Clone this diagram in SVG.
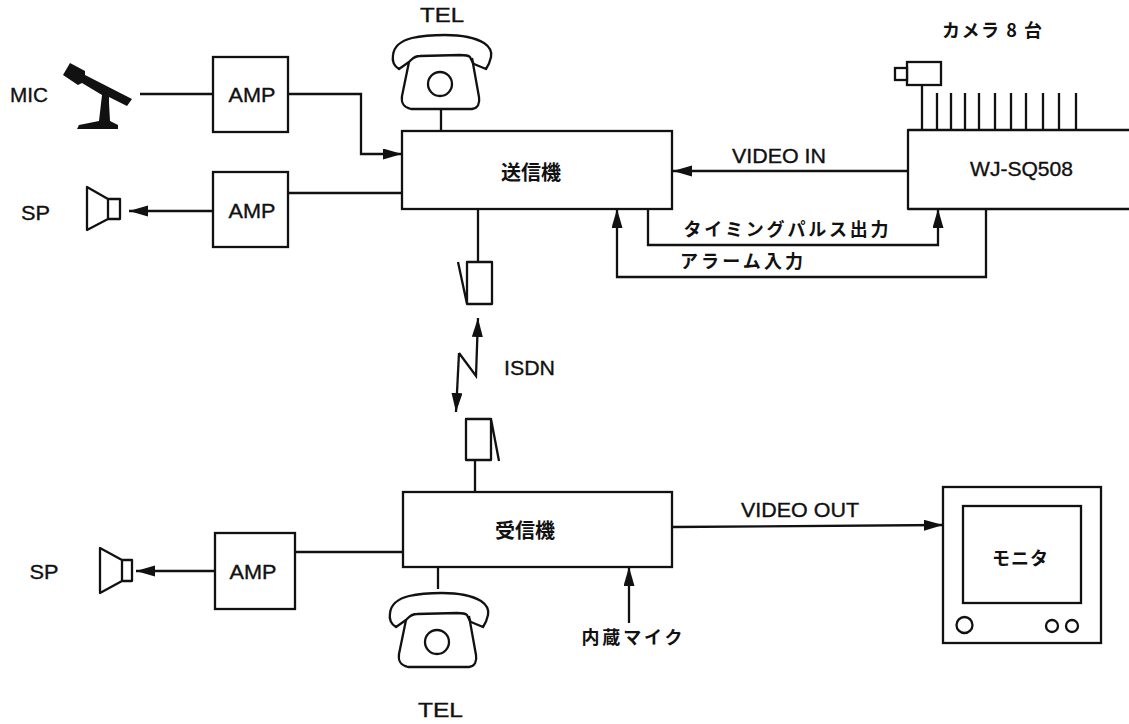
<svg xmlns="http://www.w3.org/2000/svg" xmlns:xlink="http://www.w3.org/1999/xlink" width="1129" height="724" viewBox="0 0 1129 724">
<style>
.s{fill:none;stroke:#111;stroke-width:2.300;stroke-linejoin:round}
.b{fill:#fff;stroke:#111;stroke-width:2.300}
.t{font-family:"Liberation Sans",Arial,sans-serif;font-size:20px;fill:#111;stroke:#111;stroke-width:.35;text-anchor:middle}
.j{font-family:"Noto Sans CJK JP",sans-serif;font-size:18px;font-weight:700;fill:#111;text-anchor:middle}
.c path,.c line{fill:none;stroke:#111;stroke-width:2.300}
</style>
<defs>
<marker id="a" markerUnits="userSpaceOnUse" markerWidth="20" markerHeight="12" refX="19" refY="5.500" orient="auto"><path d="M0 0L19 5.500L0 11Z" fill="#111"/></marker>
<g id="phone">
<path class="s" d="M399 69C394 66 392 61 393 55C394 47 400 41 412 38C425 35 437 35 445 35C460 35 474 37 484 43C490 47 492 52 491 57C490 62 488 66 486 69L474 64C472 62 471 59 470 57C468 55 464 55 460 55L420 56C416 56 414 57 411 60L409 62Z"/>
<path class="s" d="M409 62L402 96C401 103 403 107 411 109H472C478 108 480 103 479 97L472 58"/>
<circle class="s" cx="440" cy="84" r="12"/>
</g>
</defs>
<g class="c" id="connectors">
<line x1="140" y1="94" x2="213" y2="94"/>
<path d="M288 94H361V154H402" marker-end="url(#a)"/>
<line x1="288" y1="193" x2="402" y2="193"/>
<path d="M213 211H129" marker-end="url(#a)"/>
<line x1="441" y1="110" x2="441" y2="131"/>
<line x1="478" y1="209" x2="478" y2="262"/>
<path d="M459 353L476 376L478 318" marker-end="url(#a)"/>
<path d="M459 353L456 412" marker-end="url(#a)"/>
<line x1="475" y1="460" x2="475" y2="492"/>
<line x1="438" y1="567" x2="438" y2="589"/>
<line x1="295" y1="552" x2="403" y2="552"/>
<path d="M215 571H136" marker-end="url(#a)"/>
<path d="M672 527L943 525" marker-end="url(#a)"/>
<path d="M629 623V567" marker-end="url(#a)"/>
<path d="M908 171H673" marker-end="url(#a)"/>
<path d="M648 209V245H938V209" marker-end="url(#a)"/>
<path d="M986 209V277H617V209" marker-end="url(#a)"/>
<path d="M922 85V130M937 93V130M951 93V130M965 93V130M979 93V130M995 93V130M1011 93V130M1026 93V130M1043 93V130M1059 93V130M1076 93V130"/>
</g>
<g id="mic"><path fill="#111" d="M70 63L85 71V75L132 99L127 106L109 97L109 103L110 121L118 125V129L77 129L79 125L99 121L102 95L82 83L78 85L63 75Z"/></g>
<g id="amp1"><rect class="b" x="213" y="57" width="75" height="75"/><text class="t" x="252" y="102" textLength="47" lengthAdjust="spacingAndGlyphs">AMP</text></g>
<g id="amp2"><rect class="b" x="213" y="172" width="75" height="75"/><text class="t" x="252" y="218" textLength="47" lengthAdjust="spacingAndGlyphs">AMP</text></g>
<g id="amp3"><rect class="b" x="215" y="533" width="80" height="76"/><text class="t" x="253" y="579" textLength="47" lengthAdjust="spacingAndGlyphs">AMP</text></g>
<g id="mic-label"><text class="t" x="29" y="102" textLength="38" lengthAdjust="spacingAndGlyphs">MIC</text></g>
<g id="sp1"><path class="s" d="M87 187V230L108 219V199ZM108 199H120V219H108"/><text class="t" x="35.500" y="220" textLength="29" lengthAdjust="spacingAndGlyphs">SP</text></g>
<g id="sp2"><path class="s" d="M100 548V593L122 581V560ZM122 560H132V581H122"/><text class="t" x="44" y="579" textLength="29" lengthAdjust="spacingAndGlyphs">SP</text></g>
<g id="tel1"><use xlink:href="#phone" href="#phone"/><text class="t" x="442" y="22" textLength="44" lengthAdjust="spacingAndGlyphs">TEL</text></g>
<g id="tel2"><use xlink:href="#phone" href="#phone" transform="translate(-3 558)"/><text class="t" x="440.500" y="717" textLength="45" lengthAdjust="spacingAndGlyphs">TEL</text></g>
<g id="tx"><rect class="b" x="402" y="131" width="270" height="78"/><text class="j" x="531" y="180" style="font-size:20px">送信機</text></g>
<g id="rx"><rect class="b" x="403" y="492" width="269" height="75"/><text class="j" x="525" y="538" style="font-size:20px">受信機</text></g>
<g id="modem1"><path class="s" d="M467 262H492V304H467ZM458 262L467 304"/></g>
<g id="modem2"><path class="s" d="M466 419H491V460H466ZM491 419L499 461"/></g>
<g id="isdn-label"><text class="t" x="529.500" y="375" textLength="51" lengthAdjust="spacingAndGlyphs">ISDN</text></g>
<g id="wj"><path class="s" d="M1129 130H908V209H1129"/><text class="t" x="1021.500" y="176" textLength="103" lengthAdjust="spacingAndGlyphs">WJ-SQ508</text></g>
<g id="camera"><rect class="b" x="907" y="62" width="34" height="23"/><rect class="b" x="895" y="68" width="12" height="12"/></g>
<g id="cam-label"><text class="j" x="992" y="37" textLength="100">カメラ 8 台</text></g>
<g id="monitor"><rect class="b" x="943" y="487" width="158" height="156"/><rect class="b" x="963" y="506" width="118" height="97"/><circle class="s" cx="964.500" cy="625" r="8"/><circle class="s" cx="1052" cy="626" r="6"/><circle class="s" cx="1072" cy="626" r="6"/><text class="j" x="1020" y="565" textLength="56">モニタ</text></g>
<g id="labels">
<text class="t" x="779" y="163" textLength="94" lengthAdjust="spacingAndGlyphs">VIDEO IN</text>
<text class="j" x="786" y="236" textLength="205">タイミングパルス出力</text>
<text class="j" x="741.500" y="268" textLength="123">アラーム入力</text>
<text class="t" x="800" y="517" textLength="118" lengthAdjust="spacingAndGlyphs">VIDEO OUT</text>
<text class="j" x="632" y="644" textLength="101">内蔵マイク</text>
</g>
</svg>
